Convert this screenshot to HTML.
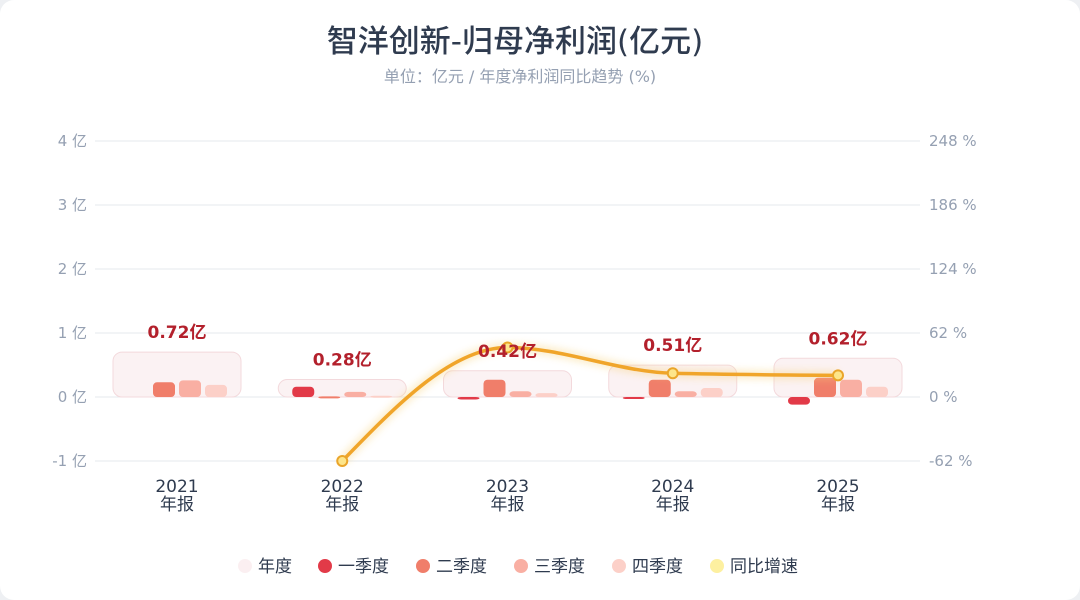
<!DOCTYPE html>
<html><head><meta charset="utf-8"><style>
body{margin:0;background:#eef0f3;font-family:"DejaVu Sans","Noto Sans CJK SC",sans-serif;}
#card{position:absolute;left:0;top:0;width:1080px;height:600px;background:#fff;border-radius:14px;overflow:hidden}
</style></head><body>
<div id="card">
<svg id="chart" width="1080" height="600">
<defs><filter id="glow" x="-20%" y="-50%" width="140%" height="200%"><feGaussianBlur stdDeviation="4"/></filter></defs>
<text x="515" y="52" text-anchor="middle" font-size="31" font-weight="500" fill="#2f3b4f">智洋创新-归母净利润(亿元)</text>
<text x="520" y="82" text-anchor="middle" font-size="16" fill="#95a0b2">单位：亿元 / 年度净利润同比趋势 (%)</text>
<g id="grid"></g><g id="boxes"></g><g id="bars"></g><g id="line"></g><g id="labels"></g><g id="legend"></g>
</svg></div>
<script>
const categories=["2021","2022","2023","2024","2025"];
const annual=[0.72,0.28,0.42,0.51,0.62];
const q1=[0,0.16,-0.04,-0.02,-0.12];
const q2=[0.23,0.01,0.27,0.27,0.30];
const q3=[0.26,0.08,0.09,0.09,0.27];
const q4=[0.19,0.02,0.06,0.14,0.16];
const growth=[null,-62,48,23,21];
const leftTicks=[-1,0,1,2,3,4];
const rightTicks=[-62,0,62,124,186,248];
const NS="http://www.w3.org/2000/svg";
const y0=397,unit=64;
const y=v=>y0-v*unit;
const yr=p=>y0-p/62*unit;
const x=i=>177+i*165.25;
function el(t,a,p){const e=document.createElementNS(NS,t);for(const k in a)e.setAttribute(k,a[k]);document.getElementById(p).appendChild(e);return e;}
leftTicks.forEach((t,i)=>{
 const l=el('line',{x1:95,x2:920,y1:y(t),y2:y(t),stroke:"#e6e9ee","stroke-width":1},'grid');
 
 
 const a=el('text',{x:87,y:y(t)+5,"text-anchor":"end","font-size":15,fill:"#95a0b2"},'grid');a.textContent=t+" 亿";
 
 
 const b=el('text',{x:929,y:y(t)+5,"font-size":15,fill:"#95a0b2"},'grid');b.textContent=rightTicks[i]+" %";
 
 
});
categories.forEach((c,i)=>{
 const t=el('text',{x:x(i),y:492,"text-anchor":"middle","font-size":17,fill:"#2f3b4f"},'grid');t.textContent=c;
 
 
 const t2=el('text',{x:x(i),y:510,"text-anchor":"middle","font-size":17,fill:"#2f3b4f"},'grid');t2.textContent="年报";
 
 
 const h=annual[i]*unit*0.975;
 const b=el('rect',{x:x(i)-64,y:y0-h,width:128,height:h,rx:9,fill:"#fbf2f3",stroke:"#f3d9dc","stroke-width":1},'boxes');
 
 
 const lb=el('text',{x:x(i),y:y0-h-14,"text-anchor":"middle","font-size":17,"font-weight":"bold",fill:"#b3202c"},'labels');lb.textContent=annual[i].toFixed(2)+"亿";
 
 
 [[q1,"#e23a48"],[q2,"#f07e6a"],[q3,"#f9afa3"],[q4,"#fcd0c8"]].forEach(([s,col],k)=>{
  const v=s[i];if(v===0)return;
  const top=Math.min(y(v),y0),hh=Math.max(Math.abs(v)*unit,2);
  const r=el('rect',{x:x(i)-50+k*26,y:top,width:22,height:hh,rx:4,fill:col},'bars');
  
  
 });
});
const pts=[];growth.forEach((g,i)=>{if(g!==null)pts.push([x(i),yr(g)]);});
const n=pts.length,sl=[],tg=[];
for(let i=0;i<n-1;i++)sl.push((pts[i+1][1]-pts[i][1])/(pts[i+1][0]-pts[i][0]));
for(let i=1;i<n-1;i++){const a=sl[i-1],b=sl[i];if(a*b<=0)tg[i]=0;else{const h0=pts[i][0]-pts[i-1][0],h1=pts[i+1][0]-pts[i][0],p=(a*h1+b*h0)/(h0+h1);tg[i]=(Math.sign(a)+Math.sign(b))*Math.min(Math.abs(a),Math.abs(b),0.5*Math.abs(p));}}
tg[0]=(3*sl[0]-tg[1])/2;tg[n-1]=(3*sl[n-2]-tg[n-2])/2;
let d="M"+pts[0][0]+","+pts[0][1];
for(let i=0;i<n-1;i++){const dx=(pts[i+1][0]-pts[i][0])/3;
 d+=` C${pts[i][0]+dx},${pts[i][1]+dx*tg[i]} ${pts[i+1][0]-dx},${pts[i+1][1]-dx*tg[i+1]} ${pts[i+1][0]},${pts[i+1][1]}`;}
const gl=el('path',{d:d,fill:"none",stroke:"#f7d27a","stroke-width":8,opacity:0.45,filter:"url(#glow)"},'line');


const ln=el('path',{d:d,fill:"none",stroke:"#f0a52a","stroke-width":3.5},'line');


pts.forEach((p,i)=>{
 const c=el('circle',{cx:p[0],cy:p[1],r:5,fill:"#fde58a",stroke:"#eaa52a","stroke-width":2},'line');
 
 
});
const leg=[["年度","#fbeff1"],["一季度","#e23a48"],["二季度","#f07e6a"],["三季度","#f9afa3"],["四季度","#fcd0c8"],["同比增速","#fdf0a0"]];
const lx=[245,325,423,521,619,717];
leg.forEach((l,i)=>{
 const c=el('circle',{cx:lx[i],cy:566,r:7,fill:l[1]},'legend');
 
 
 const t=el('text',{x:lx[i]+13,y:572,"font-size":17,fill:"#2f3b4f"},'legend');t.textContent=l[0];
 
 
});
</script>
</body></html>
